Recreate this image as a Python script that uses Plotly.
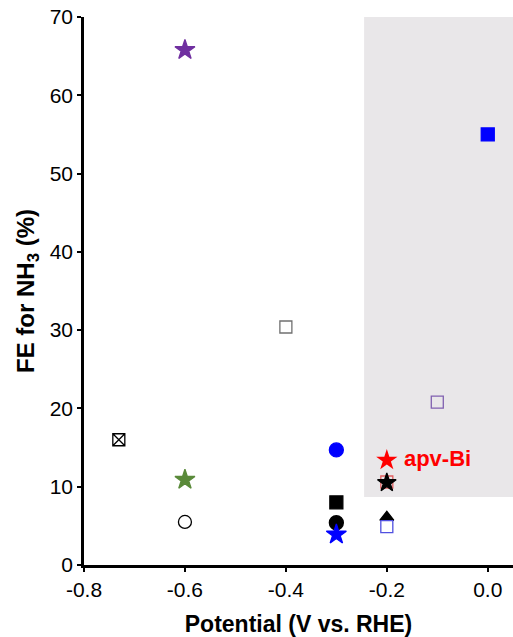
import plotly.graph_objects as go

# Faradaic efficiency for NH3 vs. potential for a set of catalysts
potential = [-0.6, 0.0, -0.4, -0.1, -0.731, -0.6, -0.6, -0.3, -0.2, -0.2, -0.3, -0.3, -0.3, -0.2, -0.2]
fe_nh3 = [65.8, 55.0, 30.4, 20.8, 16.0, 10.9, 5.5, 14.7, 10.6, 10.5, 8.0, 5.4, 3.9, 6.1, 4.9]
symbols = ["star", "square", "square-open", "square-open", "square-x-open", "star", "circle-open",
           "circle", "square-open", "star", "square", "circle", "star", "triangle-up", "square-open"]
colors = ["#7030a0", "#0000ff", "#707070", "#8060b0", "#000000", "#5a8a3a", "#000000",
          "#0000ff", "#e06060", "#000000", "#000000", "#000000", "#0000ff", "#000000", "#5050e0"]
sizes = [15, 13, 12, 12, 12, 15, 13, 14, 12, 14, 13, 14, 15, 12, 12]

highlight_x = [-0.2]
highlight_y = [13.4]
highlight_label = ["apv-Bi"]

region_x = [-0.245, 0.05]
region_y = [8.7, 70]

x_ticks = [-0.8, -0.6, -0.4, -0.2, 0.0]
x_ticktext = ["-0.8", "-0.6", "-0.4", "-0.2", "0.0"]
y_ticks = [0, 10, 20, 30, 40, 50, 60, 70]

FONT = "Liberation Sans, Arial, sans-serif"

fig = go.Figure()

fig.add_shape(type="rect", xref="x", yref="y",
              x0=region_x[0], x1=region_x[1], y0=region_y[0], y1=region_y[1],
              fillcolor="#e9e7e9", line_width=0, layer="below")

fig.add_trace(go.Scatter(
    x=potential, y=fe_nh3, mode="markers",
    marker=dict(symbol=symbols, color=colors, size=sizes, opacity=1,
                line=dict(width=1.3, color=colors)),
    showlegend=False, cliponaxis=False,
))

fig.add_trace(go.Scatter(
    x=highlight_x, y=highlight_y, mode="markers+text",
    marker=dict(symbol="star", color="#ff0000", size=16, opacity=1, line=dict(width=0)),
    text=["<b> " + t + "</b>" for t in highlight_label],
    textposition="middle right",
    textfont=dict(family=FONT, size=22, color="#ff0000"),
    showlegend=False,
))

tick_font = dict(family=FONT, size=21, color="#000000")

fig.update_layout(
    width=513, height=637,
    margin=dict(l=84, r=0, t=17, b=72),
    paper_bgcolor="white", plot_bgcolor="white",
    font=tick_font,
    xaxis=dict(
        range=[-0.8, 0.05], tickvals=x_ticks, ticktext=x_ticktext,
        ticks="outside", ticklen=4, tickwidth=2, tickcolor="black",
        showline=True, linewidth=2.5, linecolor="black", showgrid=False, zeroline=False,
        tickfont=tick_font,
        title=dict(text="<b>Potential (V vs. RHE)</b>", font=dict(family=FONT, size=23, color="#000000"), standoff=17),
    ),
    yaxis=dict(
        range=[0, 70], tickvals=y_ticks,
        ticks="outside", ticklen=4, tickwidth=2, tickcolor="black",
        showline=True, linewidth=2.5, linecolor="black", showgrid=False, zeroline=False,
        tickfont=tick_font,
        title=dict(text="<b>FE for NH<sub>3</sub> (%)</b>", font=dict(family=FONT, size=24, color="#000000"), standoff=9),
    ),
)

fig.write_html("out.html")
